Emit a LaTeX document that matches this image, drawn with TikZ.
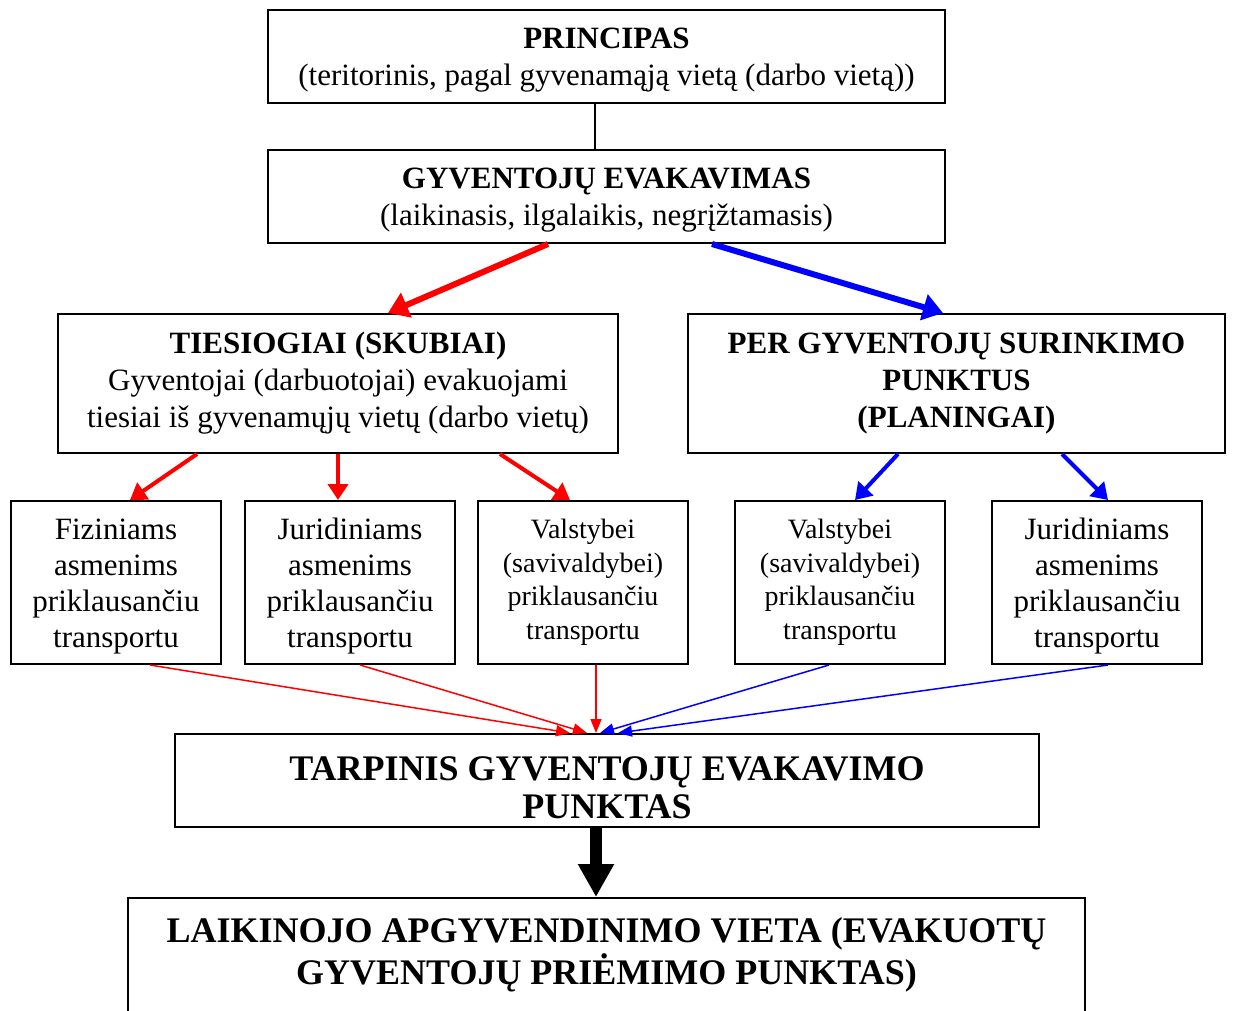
\documentclass[tikz,border=0pt]{standalone}
\usepackage{fontspec}
\setmainfont{Liberation Serif}
\usetikzlibrary{arrows.meta}

\newcommand\lift[1]{\rule{0pt}{#1}}

\tikzset{
  box/.style={draw, line width=2pt, inner sep=0pt, align=center},
  bigtext/.style={font=\fontsize{31}{37}\selectfont},
  bigbold/.style={font=\fontsize{31}{37}\selectfont\bfseries},
  smalltext/.style={font=\fontsize{31}{36}\selectfont},
  smallertext/.style={font=\fontsize{28}{33.5}\selectfont},
  headtext/.style={font=\fontsize{36}{#1}\selectfont\bfseries, align=center, inner sep=0pt},
  joinline/.style={line width=1.5pt},
  mainarrow/.style={line width=6pt, -{Triangle[length=20pt,width=26pt]}},
  midarrow/.style={line width=4pt, -{Triangle[length=16pt,width=20pt]}},
  thinarrow/.style={line width=1.5pt, -{Triangle[length=14pt,width=11pt]}},
  bigarrow/.style={line width=12pt, -{Triangle[length=33pt,width=34pt]}}
}

\begin{document}
\begin{tikzpicture}[x=1pt,y=-1pt]
    \useasboundingbox (0,0) rectangle (1233,1010);

    \node[box, bigtext, minimum width=677pt, minimum height=93pt] (prin) at (606.5,56.5)
        {\lift{28.5pt}\textbf{PRINCIPAS}\\(teritorinis, pagal gyvenamąją vietą (darbo vietą))};
    \node[box, bigtext, minimum width=677pt, minimum height=93pt] (evak) at (606.5,196.5)
        {\lift{28.5pt}\textbf{GYVENTOJŲ EVAKAVIMAS}\\(laikinasis, ilgalaikis, negrįžtamasis)};
    \node[box, bigtext, minimum width=560pt, minimum height=139pt] (ties) at (338,383.5)
        {\textbf{TIESIOGIAI (SKUBIAI)}\\Gyventojai (darbuotojai) evakuojami\\tiesiai iš gyvenamųjų vietų (darbo vietų)};
    \node[box, bigbold, minimum width=537pt, minimum height=139pt] (per) at (956.5,383.5)
        {PER GYVENTOJŲ SURINKIMO\\PUNKTUS\\(PLANINGAI)};

    \foreach \n/\cx/\fs/\up/\txt in {fiz/116/smalltext/29pt/{Fiziniams\\asmenims\\priklausančiu\\transportu},
                                     jur/350/smalltext/29pt/{Juridiniams\\asmenims\\priklausančiu\\transportu},
                                     val/583/smallertext/0pt/{Valstybei\\(savivaldybei)\\priklausančiu\\transportu},
                                     valb/840/smallertext/0pt/{Valstybei\\(savivaldybei)\\priklausančiu\\transportu},
                                     jurb/1097/smalltext/29pt/{Juridiniams\\asmenims\\priklausančiu\\transportu}}
        \node[box, \fs, minimum width=210pt, minimum height=163pt] (\n) at (\cx,582.5) {\lift{\up}\txt};

    \node[box, minimum width=864pt, minimum height=93pt] (tarp) at (607,780.5) {};
    \begin{scope}
        \clip (tarp.north west) rectangle ([yshift=10pt]tarp.south east);
        \node[headtext=38] (tarptext) at (607,788) {TARPINIS GYVENTOJŲ EVAKAVIMO\\PUNKTAS};
    \end{scope}

    \begin{scope}
        \clip (0,0) rectangle (1233,1010);
        \node[box, minimum width=957pt, minimum height=240pt, anchor=north] (laik) at (606.5,897) {};
    \end{scope}
    \node[headtext=42] (laiktext) at (606.5,955)
        {LAIKINOJO APGYVENDINIMO VIETA (EVAKUOTŲ\\GYVENTOJŲ PRIĖMIMO PUNKTAS)};

    \draw[joinline] ([xshift=-11.5pt]prin.south) -- ([xshift=-11.5pt]evak.north);
    \draw[mainarrow, red] ([xshift=-58.5pt]evak.south) -- ([xshift=50pt]ties.north);
    \draw[mainarrow, blue] ([xshift=105.5pt]evak.south) -- ([xshift=-13.5pt]per.north);

    \foreach \a/\da/\b/\db/\c in {ties/-141/fiz/14/red, ties/0/jur/-12/red, ties/162/val/-13/red,
                                  per/-58.5/valb/15/blue, per/105.5/jurb/11/blue}
        \draw[midarrow, \c] ([xshift=\da pt]\a.south) -- ([xshift=\db pt]\b.north);

    \foreach \a/\da/\db/\c in {fiz/34/-37/red, jur/10/-20/red, val/13/-11/red,
                               valb/-11/-7/blue, jurb/11/11/blue}
        \draw[thinarrow, \c] ([xshift=\da pt]\a.south) -- ([xshift=\db pt]tarp.north);

    \draw[bigarrow] ([xshift=-11pt]tarp.south) -- ([xshift=-10.5pt]laik.north);

\end{tikzpicture}
\end{document}
